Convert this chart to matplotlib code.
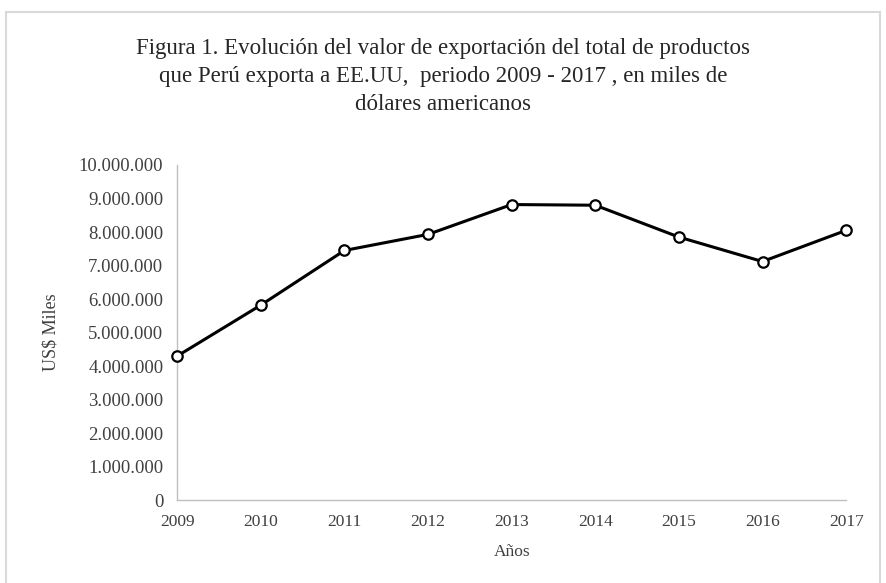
import matplotlib.pyplot as plt
from matplotlib.patches import Rectangle
from matplotlib.ticker import FuncFormatter

# Datos (miles de US$)
years = [2009, 2010, 2011, 2012, 2013, 2014, 2015, 2016, 2017]
values = [4300000, 5820000, 7450000, 7930000, 8820000, 8800000, 7850000, 7120000, 8050000]

plt.rcParams['font.family'] = ['Liberation Serif', 'DejaVu Serif']

fig = plt.figure(figsize=(8.86, 5.83), dpi=100)
ax = fig.add_axes([0.2, 0.142, 0.755, 0.575])

# marco exterior
fig.patches.append(Rectangle((6 / 886, -0.01), 874 / 886, 1 - 12 / 583 + 0.01,
                             transform=fig.transFigure, fill=False,
                             edgecolor='#D9D9D9', linewidth=1.5))

ax.plot(years, values, color='black', linewidth=2.2, marker='o', markersize=7.5,
        markerfacecolor='white', markeredgecolor='black', markeredgewidth=1.6,
        clip_on=False, zorder=3)

ax.set_xlim(2009, 2017)
ax.set_ylim(0, 10000000)
ax.set_xticks(years)
ax.set_yticks(range(0, 10000001, 1000000))
ax.yaxis.set_major_formatter(FuncFormatter(lambda v, p: f'{int(v):,}'.replace(',', '.')))

for s in ['top', 'right']:
    ax.spines[s].set_visible(False)
for s in ['left', 'bottom']:
    ax.spines[s].set_color('#BFBFBF')
    ax.spines[s].set_linewidth(1)
ax.tick_params(length=0, labelcolor='#404040')
ax.tick_params(axis='x', labelsize=12.5, pad=10)
ax.tick_params(axis='y', labelsize=13.5, pad=10)

ax.set_xlabel('Años', fontsize=12.5, color='#404040', labelpad=10)
ax.set_ylabel('US$ Miles', fontsize=13, color='#404040', labelpad=14)

fig.text(0.5, 0.935, 'Figura 1. Evolución del valor de exportación del total de productos\n'
         'que Perú exporta a EE.UU,  periodo 2009 - 2017 , en miles de\n'
         'dólares americanos', ha='center', va='top', fontsize=16.5,
         color='#262626', linespacing=1.45)

fig.savefig('out.png', dpi=100)
